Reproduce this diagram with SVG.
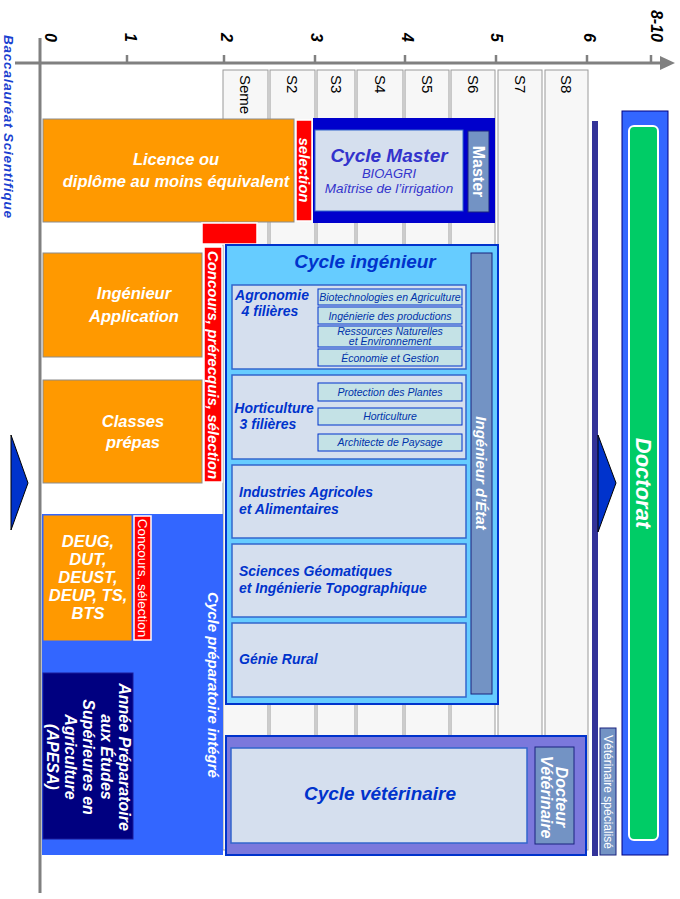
<svg xmlns="http://www.w3.org/2000/svg" width="680" height="899" viewBox="0 0 680 899">
<style>
text{font-family:"Liberation Sans",Arial,sans-serif;}
.bi{font-weight:bold;font-style:italic;}
.w{fill:#ffffff;}
.col{fill:#f7f7f7;stroke:#9a9a9a;stroke-width:1;}
.sl{font-size:15px;fill:#000;}
.tick{font-size:16px;font-weight:bold;font-style:italic;fill:#000;text-anchor:end;}
.orange{fill:#ff9900;stroke:#8c8c8c;stroke-width:1;}
.red{fill:#ff0000;stroke:#ffffff;stroke-width:1.5;}
.steel{fill:#7393c4;stroke:#1a237e;stroke-width:1;}
.sub{fill:#d5dfee;stroke:#3366cc;stroke-width:1.5;}
.item{fill:#c4e2e6;stroke:#0033cc;stroke-width:1;}
.it{font-size:10.5px;font-style:italic;fill:#0033aa;text-anchor:middle;}
.bt{font-size:14px;font-weight:bold;font-style:italic;fill:#0033cc;}
.ot{font-size:16.5px;font-weight:bold;font-style:italic;fill:#ffffff;text-anchor:middle;}
.mid{text-anchor:middle;}
</style>
<rect x="0" y="0" width="680" height="899" fill="#ffffff"/>

<g id="semesters">
<rect class="col" x="223" y="70" width="45" height="780"/>
<rect class="col" x="270" y="70" width="45" height="780"/>
<rect class="col" x="317" y="70" width="38" height="780"/>
<rect class="col" x="357" y="70" width="46" height="780"/>
<rect class="col" x="405" y="70" width="44" height="780"/>
<rect class="col" x="451" y="70" width="44" height="780"/>
<rect class="col" x="498" y="70" width="44" height="780"/>
<rect class="col" x="545" y="70" width="43" height="780"/>
<text class="sl" transform="translate(245,75) rotate(90)" y="5.3">Seme</text>
<text class="sl" transform="translate(292,75) rotate(90)" y="5.3">S2</text>
<text class="sl" transform="translate(336,75) rotate(90)" y="5.3">S3</text>
<text class="sl" transform="translate(380,75) rotate(90)" y="5.3">S4</text>
<text class="sl" transform="translate(427,75) rotate(90)" y="5.3">S5</text>
<text class="sl" transform="translate(473,75) rotate(90)" y="5.3">S6</text>
<text class="sl" transform="translate(520,75) rotate(90)" y="5.3">S7</text>
<text class="sl" transform="translate(566,75) rotate(90)" y="5.3">S8</text>
</g>

<g id="axes">
<line x1="15" y1="63" x2="662" y2="63" stroke="#808080" stroke-width="3"/>
<polygon points="660,56 675,63 660,70" fill="#808080"/>
<line x1="40" y1="38" x2="40" y2="893" stroke="#808080" stroke-width="3"/>
<g stroke="#808080" stroke-width="2.5">
<line x1="127" y1="55" x2="127" y2="63"/>
<line x1="224" y1="55" x2="224" y2="63"/>
<line x1="315" y1="55" x2="315" y2="63"/>
<line x1="405" y1="55" x2="405" y2="63"/>
<line x1="496" y1="55" x2="496" y2="63"/>
<line x1="587" y1="55" x2="587" y2="63"/>
<line x1="651" y1="55" x2="651" y2="63"/>
</g>
<text class="tick" transform="translate(51,42) rotate(90)" y="5.6">0</text>
<text class="tick" transform="translate(131,42) rotate(90)" y="5.6">1</text>
<text class="tick" transform="translate(227,42) rotate(90)" y="5.6">2</text>
<text class="tick" transform="translate(317,42) rotate(90)" y="5.6">3</text>
<text class="tick" transform="translate(408,42) rotate(90)" y="5.6">4</text>
<text class="tick" transform="translate(497,42) rotate(90)" y="5.6">5</text>
<text class="tick" transform="translate(590,42) rotate(90)" y="5.6">6</text>
<text class="tick" transform="translate(657,42) rotate(90)" y="5.6">8-10</text>
<text class="bi" font-size="13.5" fill="#1a3fd0" transform="translate(9,35) rotate(90)" y="4.7" textLength="183" lengthAdjust="spacing">Baccalauréat Scientifique</text>
</g>

<g id="cycle-preparatoire">
<rect x="42" y="514" width="181" height="341" fill="#3366ff"/>
<text class="bi w mid" font-size="15" transform="translate(213,685) rotate(90)" y="5.3">Cycle préparatoire intégré</text>
</g>

<g id="licence">
<rect class="orange" x="43" y="119" width="251" height="103"/>
<text class="ot" x="176" y="165">Licence ou</text>
<text class="ot" x="176" y="187">diplôme au moins équivalent</text>
</g>
<g id="selection">
<rect class="red" x="296" y="120" width="16" height="101"/>
<text class="bi w mid" font-size="15" transform="translate(304,170) rotate(90)" y="5.3">selection</text>
</g>

<g id="cycle-master">
<rect x="313" y="118" width="182" height="105" fill="#0000cc"/>
<rect x="315" y="130" width="148" height="81" fill="#d5dfee" stroke="#3366cc" stroke-width="1"/>
<text class="bi mid" font-size="19" fill="#3333cc" x="389" y="162">Cycle Master</text>
<text class="mid" font-size="13" font-style="italic" fill="#3333cc" x="389" y="178">BIOAGRI</text>
<text class="mid" font-size="13.5" font-style="italic" fill="#3333cc" x="389" y="193">Maîtrise de l’irrigation</text>
<rect class="steel" x="468" y="131" width="21" height="81"/>
<text class="mid w" font-size="16" font-weight="bold" transform="translate(478.5,171.5) rotate(90)" y="5.6">Master</text>
</g>

<g id="concours-prerequis">
<rect class="red" x="202" y="223" width="55" height="21"/>
<rect class="red" x="204" y="247" width="18" height="235"/>
<text class="bi w mid" font-size="15" transform="translate(213,365) rotate(90)" y="5.3">Concours, prérecquis, sélection</text>
</g>

<g id="ingenieur-application">
<rect class="orange" x="43" y="253" width="159" height="104"/>
<text class="ot" x="134" y="299">Ingénieur</text>
<text class="ot" x="134" y="322">Application</text>
</g>
<g id="classes-prepas">
<rect class="orange" x="43" y="380" width="159" height="103"/>
<text class="ot" x="133" y="427">Classes</text>
<text class="ot" x="133" y="448">prépas</text>
</g>

<g id="deug">
<rect x="43" y="515" width="89" height="126" fill="#ff9900" stroke="#3366ff" stroke-width="1"/>
<text class="ot" font-size="16" x="88" y="547">DEUG,</text>
<text class="ot" font-size="16" x="88" y="565">DUT,</text>
<text class="ot" font-size="16" x="88" y="583">DEUST,</text>
<text class="ot" font-size="16" x="88" y="601">DEUP, TS,</text>
<text class="ot" font-size="16" x="88" y="619">BTS</text>
</g>
<g id="concours-selection">
<rect class="red" x="134" y="516" width="17" height="124"/>
<text class="w mid" font-size="13.5" transform="translate(142.5,578) rotate(90)" y="4.7">Concours, sélection</text>
</g>

<g id="apesa">
<rect x="43" y="673" width="90" height="166" fill="#000080" stroke="#1a1a99" stroke-width="1"/>
<g transform="translate(0,757) rotate(90)">
<text class="bi w mid" font-size="16" x="0" y="-119.2">Année Préparatoire</text>
<text class="bi w mid" font-size="16" x="0" y="-101.2">aux Études</text>
<text class="bi w mid" font-size="16" x="0" y="-83.2">Supérieures en</text>
<text class="bi w mid" font-size="16" x="0" y="-65.2">Agriculture</text>
<text class="bi w mid" font-size="16" x="0" y="-47.2">(APESA)</text>
</g>
</g>

<g id="cycle-ingenieur">
<rect x="226" y="245" width="272" height="459" fill="#66ccff" stroke="#0033cc" stroke-width="2"/>
<text class="bi mid" font-size="19" fill="#0033cc" x="365" y="268">Cycle ingénieur</text>
<rect class="steel" x="471" y="253" width="21" height="441"/>
<text class="bi w mid" font-size="15" transform="translate(481.5,473) rotate(90)" y="5.3">Ingénieur d’État</text>
</g>

<g id="agronomie">
<rect class="sub" x="232" y="285" width="234" height="84"/>
<text class="bt mid" x="272" y="300">Agronomie</text>
<text class="bt mid" x="270" y="316">4 filières</text>
<rect class="item" x="318" y="289" width="144" height="16"/>
<text class="it" x="390" y="301">Biotechnologies en Agriculture</text>
<rect class="item" x="318" y="307" width="144" height="17"/>
<text class="it" x="390" y="319.5">Ingénierie des productions</text>
<rect class="item" x="318" y="326" width="144" height="21"/>
<text class="it" font-size="8.5"><tspan x="390" y="334.5">Ressources Naturelles</tspan><tspan x="390" y="344.5">et Environnement</tspan></text>
<rect class="item" x="318" y="349" width="144" height="17"/>
<text class="it" x="390" y="361.5">Économie et Gestion</text>
</g>

<g id="horticulture">
<rect class="sub" x="232" y="375" width="234" height="84"/>
<text class="bt mid" x="274" y="413">Horticulture</text>
<text class="bt mid" x="268" y="429">3 filières</text>
<rect class="item" x="318" y="383" width="144" height="18"/>
<text class="it" x="390" y="396">Protection des Plantes</text>
<rect class="item" x="318" y="408" width="144" height="17"/>
<text class="it" x="390" y="420">Horticulture</text>
<rect class="item" x="318" y="434" width="144" height="17"/>
<text class="it" x="390" y="446">Architecte de Paysage</text>
</g>

<g id="industries">
<rect class="sub" x="232" y="465" width="234" height="73"/>
<text class="bt" x="239" y="497">Industries Agricoles</text>
<text class="bt" x="239" y="514">et Alimentaires</text>
</g>
<g id="sciences">
<rect class="sub" x="232" y="544" width="234" height="73"/>
<text class="bt" x="239" y="576">Sciences Géomatiques</text>
<text class="bt" x="239" y="593">et Ingénierie Topographique</text>
</g>
<g id="genie-rural">
<rect class="sub" x="232" y="623" width="234" height="74"/>
<text class="bt" x="239" y="664">Génie Rural</text>
</g>

<g id="cycle-veterinaire">
<rect x="226" y="736" width="360" height="119" fill="#7b78dc" stroke="#0033cc" stroke-width="2"/>
<rect x="231" y="748" width="296" height="95" fill="#d5dfee" stroke="#3366cc" stroke-width="1.5"/>
<text class="bi mid" font-size="19" fill="#0033cc" x="380" y="800">Cycle vétérinaire</text>
<rect class="steel" x="535" y="747" width="39" height="97"/>
<g transform="translate(555,797) rotate(90)">
<text class="bi w mid" font-size="16" x="0" y="-1.2">Docteur</text>
<text class="bi w mid" font-size="16" x="0" y="13.8">Vétérinaire</text>
</g>
</g>

<g id="bar">
<rect x="592" y="121" width="6" height="735" fill="#333399"/>
</g>

<g id="veterinaire-specialise">
<rect class="steel" x="600" y="728" width="16" height="127"/>
<text class="w mid" font-size="12" transform="translate(608,792) rotate(90)" y="4.2">Vétérinaire spécialisé</text>
</g>

<g id="doctorat">
<rect x="622" y="111" width="46" height="744" fill="#3366ff" stroke="#000080" stroke-width="1"/>
<rect x="629" y="126" width="29" height="714" rx="5" fill="#00cc66" stroke="#ffffff" stroke-width="2"/>
<text class="bi w mid" font-size="22" transform="translate(644,483) rotate(90)" y="7.7">Doctorat</text>
</g>

<g id="connectors">
<polygon points="11,435 28,483 11,530" fill="#0033cc" stroke="#000000" stroke-width="1"/>
<polygon points="598,435 616,483 598,532" fill="#0033cc" stroke="#000000" stroke-width="1"/>
</g>
</svg>
